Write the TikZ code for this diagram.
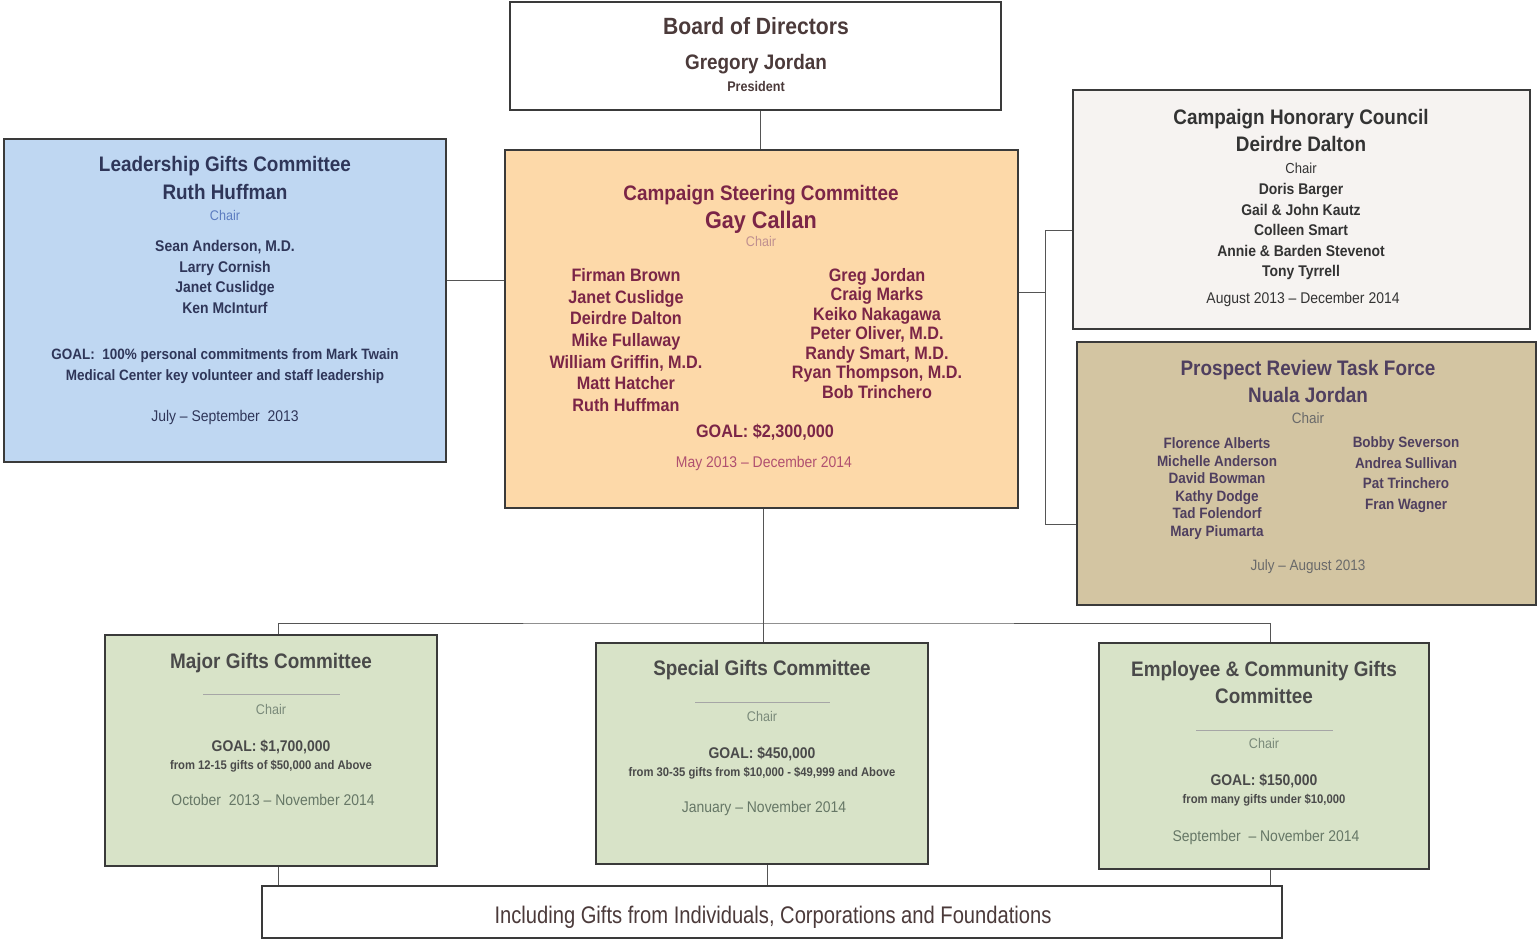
\documentclass[tikz,border=0pt]{standalone}
\usepackage{fontspec}
\setmainfont{Liberation Sans}[FakeStretch=0.9]
\newfontfamily\narrowfont{Liberation Sans}[FakeStretch=0.84]
\newcommand\fsz[1]{\fontsize{#1pt}{#1pt}\selectfont}
\newcommand\mkline[7]{\node[tx, text=#5, font={#6\fsz{#4}}] (#1) at ({#2},{#3+0.36*#4}) {#7};}
\definecolor{boxline}{HTML}{3A3A3A}
\definecolor{linkc}{HTML}{555555}
\definecolor{leadfill}{HTML}{BFD7F2}
\definecolor{steerfill}{HTML}{FDD9A9}
\definecolor{honfill}{HTML}{F6F3F1}
\definecolor{prosfill}{HTML}{D3C5A2}
\definecolor{greenfill}{HTML}{D8E3C8}
\definecolor{boardtxt}{HTML}{4B3A3A}
\definecolor{leadtxt}{HTML}{2F3659}
\definecolor{leadchair}{HTML}{5C7CC0}
\definecolor{steertxt}{HTML}{7B2547}
\definecolor{steerchair}{HTML}{C09090}
\definecolor{steerdate}{HTML}{B05070}
\definecolor{hontxt}{HTML}{333333}
\definecolor{prostxt}{HTML}{4F3F5F}
\definecolor{proschair}{HTML}{6A6A6A}
\definecolor{greentxt}{HTML}{4A4A4A}
\definecolor{greenchair}{HTML}{7A8A7A}
\definecolor{greendate}{HTML}{667766}
\begin{document}
\begin{tikzpicture}[x=1pt,y=-1pt,
  tx/.style={inner sep=0pt, anchor=base},
  box/.style={draw=boxline, line width=1.5pt, inner sep=0pt},
  link/.style={draw=linkc, line width=0.9pt},
  rulestyle/.style={draw=gray!70, line width=0.8pt}]
\useasboundingbox (0,0) rectangle (1537,942);

% boxes
\node[box, fill=white, minimum width=491pt, minimum height=108pt] (board) at (755.5,56) {};
\node[box, fill=leadfill, minimum width=442pt, minimum height=323pt] (lead) at (225,300.5) {};
\node[box, fill=steerfill, minimum width=513pt, minimum height=358pt] (steer) at (761.5,329) {};
\node[box, fill=honfill, minimum width=457pt, minimum height=239pt] (hon) at (1301.5,209.5) {};
\node[box, fill=prosfill, minimum width=459pt, minimum height=263pt] (pros) at (1306.5,473.5) {};
\node[box, fill=greenfill, minimum width=332pt, minimum height=231pt] (major) at (271,750.5) {};
\node[box, fill=greenfill, minimum width=332pt, minimum height=221pt] (spec) at (762,753.5) {};
\node[box, fill=greenfill, minimum width=330pt, minimum height=226pt] (emp) at (1264,756) {};
\node[box, fill=white, minimum width=1020pt, minimum height=52pt] (bottom) at (772,912) {};

% connectors
\coordinate (rbus) at (1045,292);
\coordinate (bus) at (763,623);
\draw[link] (board.south -| 760,0) -- (steer.north -| 760,0);
\draw[link] (lead.east |- 0,280) -- (steer.west |- 0,280);
\draw[link] (steer.east |- rbus) -- (rbus);
\draw[link] (hon.west |- 0,230) -| (rbus) |- (pros.west |- 0,524);
\draw[link] (steer.south -| bus) -- (bus);
\draw[link] (major.north -| 278,0) |- (bus) -| (emp.north -| 1270,0);
\draw[link] (bus) -- (spec.north -| bus);
\draw[link] (major.south -| 278,0) -- (bottom.north -| 278,0);
\draw[link] (spec.south -| 767,0) -- (bottom.north -| 767,0);
\draw[link] (emp.south -| 1270,0) -- (bottom.north -| 1270,0);

% Board
\mkline{bt}{756}{26}{23.5}{boardtxt}{\bfseries}{Board of Directors}
\mkline{bn}{756}{62}{21}{boardtxt}{\bfseries}{Gregory Jordan}
\mkline{bp}{756}{86}{14}{boardtxt}{\bfseries}{President}

% Leadership
\mkline{lt}{225}{164}{21}{leadtxt}{\bfseries}{Leadership Gifts Committee}
\mkline{ln}{225}{192}{21}{leadtxt}{\bfseries}{Ruth Huffman}
\mkline{lc}{225}{215}{14}{leadchair}{}{Chair}
\foreach \n [count=\i] in {{Sean Anderson, M.D.},Larry Cornish,Janet Cuslidge,Ken McInturf}
  {\mkline{lm\i}{225}{246+(\i-1)*20.7}{15.5}{leadtxt}{\bfseries}{\n}}
\mkline{lg1}{225}{354}{15}{leadtxt}{\bfseries}{GOAL:\ \ 100\% personal commitments from Mark Twain}
\mkline{lg2}{225}{375}{15}{leadtxt}{\bfseries}{Medical Center key volunteer and staff leadership}
\mkline{ld}{225}{416}{15.5}{leadtxt}{}{July -- September\ \ 2013}

% Steering
\mkline{st}{761}{193}{21}{steertxt}{\bfseries}{Campaign Steering Committee}
\mkline{sn}{761}{220}{24}{steertxt}{\bfseries}{Gay Callan}
\mkline{sc}{761}{241}{14}{steerchair}{}{Chair}
\foreach \n [count=\i] in {Firman Brown,Janet Cuslidge,Deirdre Dalton,Mike Fullaway,{William Griffin, M.D.},Matt Hatcher,Ruth Huffman}
  {\mkline{sl\i}{626}{275+(\i-1)*21.7}{18}{steertxt}{\bfseries}{\n}}
\foreach \n [count=\i] in {Greg Jordan,Craig Marks,Keiko Nakagawa,{Peter Oliver, M.D.},{Randy Smart, M.D.},{Ryan Thompson, M.D.},Bob Trinchero}
  {\mkline{sr\i}{877}{275+(\i-1)*19.5}{18}{steertxt}{\bfseries}{\n}}
\mkline{sg}{765}{431}{18}{steertxt}{\bfseries}{GOAL: \$2,300,000}
\mkline{sd}{764}{462}{15.5}{steerdate}{}{May 2013 -- December 2014}

% Honorary
\mkline{ht}{1301}{117}{21}{hontxt}{\bfseries}{Campaign Honorary Council}
\mkline{hn}{1301}{144}{21}{hontxt}{\bfseries}{Deirdre Dalton}
\mkline{hc}{1301}{168}{14.5}{hontxt}{}{Chair}
\foreach \n [count=\i] in {Doris Barger,Gail \& John Kautz,Colleen Smart,Annie \& Barden Stevenot,Tony Tyrrell}
  {\mkline{hm\i}{1301}{189+(\i-1)*20.5}{15.5}{hontxt}{\bfseries}{\n}}
\mkline{hd}{1303}{298}{15.5}{hontxt}{}{August 2013 -- December 2014}

% Prospect
\mkline{pt}{1308}{368}{21}{prostxt}{\bfseries}{Prospect Review Task Force}
\mkline{pn}{1308}{395}{21}{prostxt}{\bfseries}{Nuala Jordan}
\mkline{pc}{1308}{418}{15}{proschair}{}{Chair}
\foreach \n [count=\i] in {Florence Alberts,Michelle Anderson,David Bowman,Kathy Dodge,Tad Folendorf,Mary Piumarta}
  {\mkline{pl\i}{1217}{443+(\i-1)*17.6}{15}{prostxt}{\bfseries}{\n}}
\foreach \n [count=\i] in {Bobby Severson,Andrea Sullivan,Pat Trinchero,Fran Wagner}
  {\mkline{pr\i}{1406}{442+(\i-1)*20.7}{15}{prostxt}{\bfseries}{\n}}
\mkline{pd}{1308}{565}{15}{proschair}{}{July -- August 2013}

% Major
\mkline{mt}{271}{661}{21}{greentxt}{\bfseries}{Major Gifts Committee}
\draw[rulestyle] (203,694) -- (340,694);
\mkline{mc}{271}{709}{14}{greenchair}{}{Chair}
\mkline{mg}{271}{746}{15.5}{greentxt}{\bfseries}{GOAL: \$1,700,000}
\mkline{mf}{271}{765}{12.5}{greentxt}{\bfseries}{from 12-15 gifts of \$50,000 and Above}
\mkline{md}{273}{800}{15.5}{greendate}{}{October\ \ 2013 -- November 2014}

% Special
\mkline{gt}{762}{668}{21}{greentxt}{\bfseries}{Special Gifts Committee}
\draw[rulestyle] (695,702) -- (830,702);
\mkline{gc}{762}{716}{14}{greenchair}{}{Chair}
\mkline{gg}{762}{753}{15.5}{greentxt}{\bfseries}{GOAL: \$450,000}
\mkline{gf}{762}{772}{12.5}{greentxt}{\bfseries}{from 30-35 gifts from \$10,000 - \$49,999 and Above}
\mkline{gd}{764}{807}{15.5}{greendate}{}{January -- November 2014}

% Employee
\mkline{et1}{1264}{669}{21}{greentxt}{\bfseries}{Employee \& Community Gifts}
\mkline{et2}{1264}{696}{21}{greentxt}{\bfseries}{Committee}
\draw[rulestyle] (1196,730) -- (1333,730);
\mkline{ec}{1264}{743}{14}{greenchair}{}{Chair}
\mkline{eg}{1264}{780}{15.5}{greentxt}{\bfseries}{GOAL: \$150,000}
\mkline{ef}{1264}{799}{12.5}{greentxt}{\bfseries}{from many gifts under \$10,000}
\mkline{ed}{1266}{836}{15.5}{greendate}{}{September\ \ -- November 2014}

% Bottom
\mkline{bot}{773}{915}{24}{boardtxt}{\narrowfont}{Including Gifts from Individuals, Corporations and Foundations}
\end{tikzpicture}
\end{document}
